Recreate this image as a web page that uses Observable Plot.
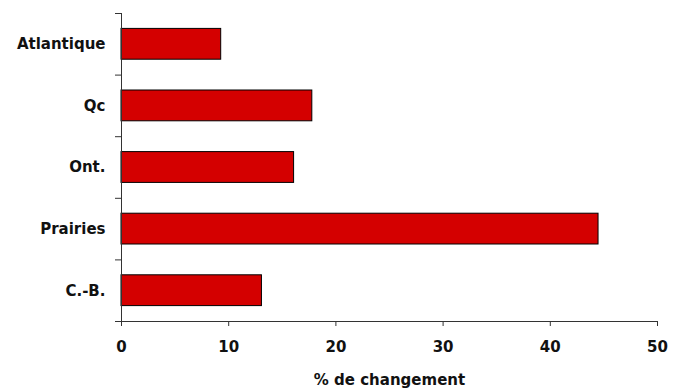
<!DOCTYPE html>
<html>
<head>
<meta charset="utf-8">
<script src="https://cdn.jsdelivr.net/npm/d3@7"></script>
<script src="https://cdn.jsdelivr.net/npm/@observablehq/plot@0.6"></script>
<style>
  html, body { margin: 0; padding: 0; background: #fff; }
</style>
</head>
<body>
<div id="chart"></div>
<script>
const regions = ["Atlantique", "Qc", "Ont.", "Prairies", "C.-B."];
const changes = [9.3, 17.8, 16.1, 44.5, 13.1];
const xTicks = [0, 10, 20, 30, 40, 50];
const xLabel = "% de changement";

const data = regions.map((r, i) => ({region: r, value: changes[i], i}));
const boundaries = d3.range(regions.length + 1);
const centers = regions.map((_, i) => i + 0.5);

const font = "'DejaVu Sans', Verdana, sans-serif";

const chart = Plot.plot({
  width: 679,
  height: 390,
  marginLeft: 121,
  marginRight: 22,
  marginTop: 13,
  marginBottom: 69,
  style: {fontFamily: font, fontSize: "14px", fontWeight: "bold", color: "#111", background: "#fff"},
  x: {domain: [0, 50]},
  y: {domain: [0, regions.length], reverse: true},
  marks: [
    Plot.rectX(data, {x1: 0, x2: "value", y1: d => d.i + 0.25, y2: d => d.i + 0.75, fill: "#d40000", stroke: "#000", strokeWidth: 1}),
    Plot.axisY({ticks: boundaries, tickSize: 6, tickFormat: () => "", stroke: "#333"}),
    Plot.axisY({ticks: centers, tickSize: 0, tickPadding: 16, tickFormat: d => regions[Math.floor(d)], fontSize: 15, fontWeight: "bold", fill: "#111"}),
    Plot.axisX({ticks: xTicks, tickSize: 5, tickPadding: 15, stroke: "#333", fill: "#111", fontSize: 15, fontWeight: "bold", label: xLabel, labelAnchor: "center", labelArrow: "none", labelOffset: 63}),
    Plot.ruleY([regions.length], {x1: -0.55, x2: 50, stroke: "#333"}),
    Plot.ruleX([0], {y1: 0, y2: regions.length, stroke: "#333"})
  ]
});
document.getElementById("chart").appendChild(chart);
</script>
</body>
</html>
